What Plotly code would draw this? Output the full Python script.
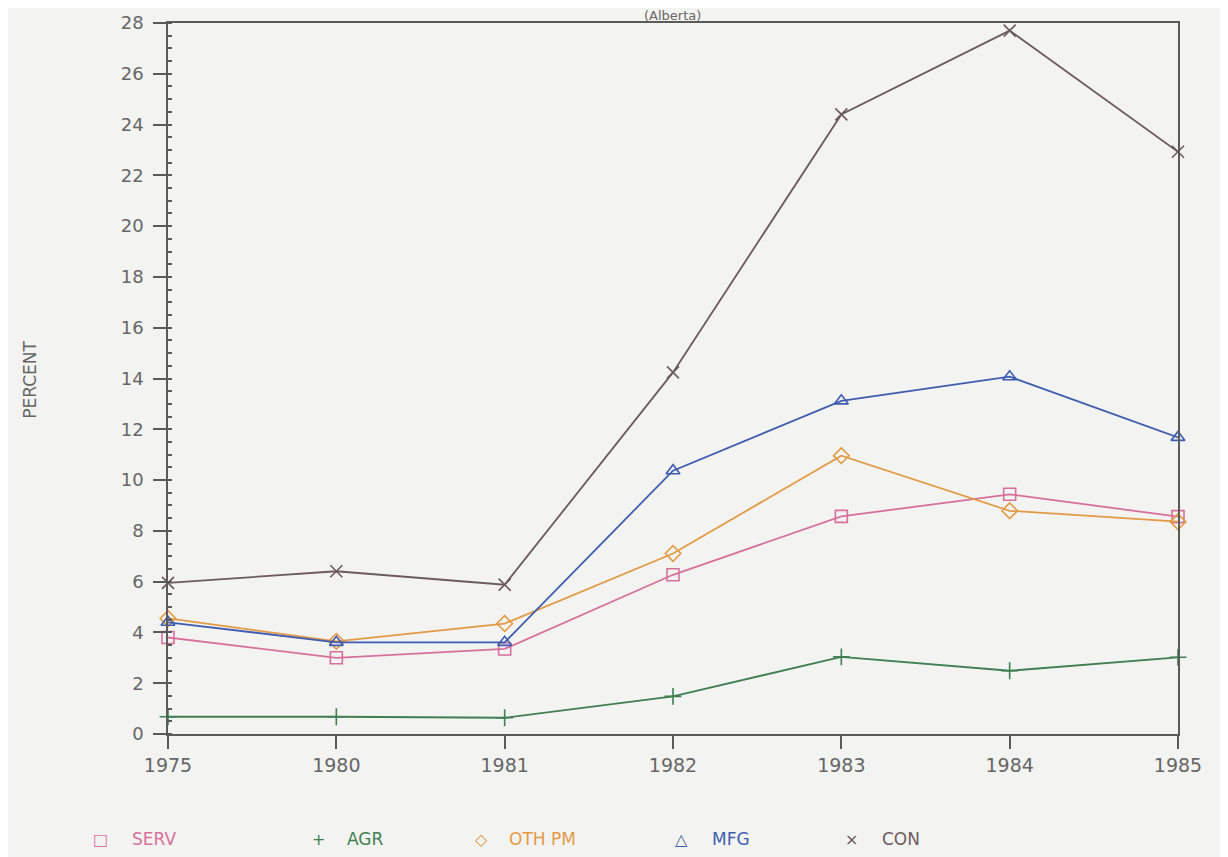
import plotly.graph_objects as go

years = ["1975", "1980", "1981", "1982", "1983", "1984", "1985"]
serv = [3.8, 3.0, 3.35, 6.27, 8.57, 9.44, 8.56]
agr = [0.68, 0.68, 0.64, 1.48, 3.04, 2.49, 3.02]
oth_pm = [4.55, 3.65, 4.35, 7.11, 10.96, 8.79, 8.36]
mfg = [4.4, 3.61, 3.61, 10.37, 13.12, 14.07, 11.68]
con = [5.95, 6.41, 5.88, 14.24, 24.4, 27.7, 22.93]

series_names = ["SERV", "AGR", "OTH PM", "MFG", "CON"]
series_vals = [serv, agr, oth_pm, mfg, con]
colors = ["#d8709c", "#3f7f52", "#e39a45", "#3f5db0", "#6b5a5e"]
symbols = ["square-open", "cross-thin-open", "diamond-open", "triangle-up-open", "x-thin-open"]
glyphs = ["\u25a1", "+", "\u25c7", "\u25b3", "\u00d7"]
legend_px = [(100, 130), (318, 345), (481, 507), (681, 710), (851, 880)]

fig = go.Figure()
for name, vals, col, sym in zip(series_names, series_vals, colors, symbols):
    fig.add_trace(go.Scatter(
        x=years, y=vals, mode="lines+markers", name=name,
        line=dict(color=col, width=1.8),
        marker=dict(symbol=sym, size=12, color=col, line=dict(color=col, width=1.6)),
        showlegend=False, cliponaxis=False,
    ))

# page has an 8px body margin; figure is sized to fit the window
OFF = 8
W, H = 1228 - OFF, 857 - OFF
L, T = 168 - OFF, 23 - OFF
R = 1228 - 1178
B = H - (734.5 - OFF)
pw = W - L - R
ph = H - T - B

def px2x(px):
    return (px - OFF - L) / pw

def py2y(py):
    return (H - B - (py - OFF)) / ph

annotations = []
for (gx, tx), name, col, g in zip(legend_px, series_names, colors, glyphs):
    annotations.append(dict(x=px2x(gx), y=py2y(840), xref="paper", yref="paper",
                            text=g, showarrow=False, xanchor="center", yanchor="middle",
                            font=dict(size=16, color=col, family="DejaVu Sans")))
    annotations.append(dict(x=px2x(tx), y=py2y(840), xref="paper", yref="paper",
                            text=name, showarrow=False, xanchor="left", yanchor="middle",
                            font=dict(size=17, color=col, family="DejaVu Sans")))
annotations.append(dict(x=px2x(672), y=py2y(15), xref="paper", yref="paper",
                        text="(Alberta)", showarrow=False, xanchor="center", yanchor="middle",
                        font=dict(size=13, color="#666666", family="DejaVu Sans")))
annotations.append(dict(x=px2x(30), y=py2y(380), xref="paper", yref="paper",
                        text="PERCENT", showarrow=False, xanchor="center", yanchor="middle",
                        textangle=-90, font=dict(size=17, color="#666666", family="DejaVu Sans")))

fig.update_layout(
    width=W, height=H,
    margin=dict(l=L, r=R, t=T, b=B, pad=0, autoexpand=False),
    paper_bgcolor="#f3f3f1", plot_bgcolor="#f3f3f1",
    font=dict(family="DejaVu Sans", color="#666666", size=18),
    annotations=annotations,
    showlegend=False,
)
fig.update_xaxes(
    type="category", range=[0, 6], showgrid=False, zeroline=False, automargin=False,
    showline=True, mirror=True, linecolor="#5a5a5a", linewidth=1.5,
    ticks="outside", ticklen=13, tickwidth=1.5, tickcolor="#5a5a5a",
    tickfont=dict(size=19, color="#666666"),
)
fig.update_yaxes(
    range=[0, 28], dtick=2, showgrid=False, zeroline=False, automargin=False,
    showline=True, mirror=True, linecolor="#5a5a5a", linewidth=1.5,
    ticks="outside", ticklen=13, tickwidth=1.5, tickcolor="#5a5a5a",
    tickfont=dict(size=18, color="#666666"), ticklabelstandoff=6,
    minor=dict(dtick=0.5, ticks="inside", ticklen=4, tickcolor="#5a5a5a", showgrid=False),
)

fig.write_html("out.html")
